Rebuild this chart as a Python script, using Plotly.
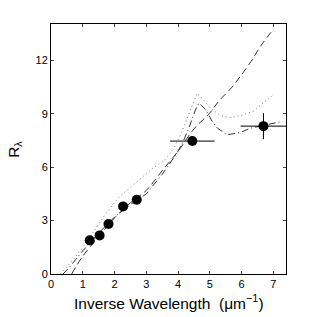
import plotly.graph_objects as go

# Observed points
obs_x = [1.22, 1.53, 1.81, 2.27, 2.70, 4.45, 6.69]
obs_y = [1.89, 2.17, 2.81, 3.80, 4.17, 7.47, 8.31]
obs_xerr = [0, 0, 0, 0, 0, 0.70, 0.72]
obs_yerr = [0, 0, 0, 0, 0, 0, 0.73]

# Model curves
dash_x = [0.65, 1.0, 1.5, 2.0, 2.5, 3.0, 3.5, 4.0, 4.5, 5.0, 5.3, 5.7, 6.0, 6.3, 6.6, 7.0]
dash_y = [0.0, 1.0, 2.1, 3.15, 4.0, 4.7, 5.8, 6.9, 8.15, 9.05, 9.75, 10.5, 11.2, 11.95, 12.8, 13.75]

dashdot_x = [0.38, 0.6, 1.0, 1.5, 2.0, 2.5, 3.0, 3.5, 3.95, 4.15, 4.34, 4.55, 4.66, 4.87, 5.08, 5.24, 5.55, 5.97, 6.29, 6.97, 7.2]
dashdot_y = [0.0, 0.42, 1.3, 2.3, 3.2, 3.9, 4.5, 5.6, 6.75, 7.4, 8.2, 9.23, 9.6, 9.23, 8.57, 8.2, 7.82, 7.96, 8.2, 8.43, 8.54]

dot_x = [0.3, 0.7, 1.0, 1.3, 1.77, 2.13, 2.6, 3.0, 3.24, 3.55, 3.85, 4.1, 4.35, 4.6, 4.8, 5.0, 5.3, 5.6, 6.0, 6.4, 6.7, 7.0]
dot_y = [0.0, 0.8, 1.5, 2.3, 3.5, 4.3, 5.0, 5.6, 6.0, 6.35, 7.0, 7.9, 9.0, 10.15, 9.8, 9.35, 8.95, 8.78, 8.92, 9.17, 9.65, 10.05]

x_ticks = [0, 1, 2, 3, 4, 5, 6, 7]
y_ticks = [0, 3, 6, 9, 12]

fig = go.Figure()
fig.add_trace(go.Scatter(x=dash_x, y=dash_y, mode="lines",
                         line=dict(color="#333333", width=1, dash="7px,4px"), line_shape="spline"))
fig.add_trace(go.Scatter(x=dashdot_x, y=dashdot_y, mode="lines",
                         line=dict(color="#333333", width=1, dash="7px,3px,1px,3px")))
fig.add_trace(go.Scatter(x=dot_x, y=dot_y, mode="lines",
                         line=dict(color="#777777", width=1, dash="1px,3px")))
fig.add_trace(go.Scatter(
    x=obs_x, y=obs_y, mode="markers",
    marker=dict(color="black", size=10),
    error_x=dict(type="data", array=obs_xerr, color="black", thickness=1, width=0),
    error_y=dict(type="data", array=obs_yerr, color="black", thickness=1, width=0),
))

fig.update_layout(
    width=316, height=317,
    margin=dict(l=51, r=30, t=24, b=43),
    paper_bgcolor="white", plot_bgcolor="white",
    showlegend=False,
    font=dict(family="Liberation Sans, Arial, sans-serif", color="black"),
    annotations=[
        dict(text="Inverse Wavelength  (μm<sup>−1</sup>)", xref="paper", yref="paper",
             x=0.5, y=-0.112, xanchor="center", yanchor="middle", showarrow=False,
             font=dict(size=15.5)),
        dict(text="R<sub>λ</sub>", xref="paper", yref="paper",
             x=-0.158, y=0.5, xanchor="center", yanchor="middle", showarrow=False,
             textangle=-90, font=dict(size=15.5)),
    ],
)
fig.update_xaxes(range=[0, 7.4], tickvals=x_ticks, ticks="inside", ticklen=3,
                 showgrid=False, zeroline=False, showline=True, linecolor="black",
                 linewidth=1, mirror="ticks", tickfont=dict(size=11), automargin=False)
fig.update_yaxes(range=[0, 14.05], tickvals=y_ticks, ticks="inside", ticklen=3,
                 showgrid=False, zeroline=False, showline=True, linecolor="black",
                 linewidth=1, mirror="ticks", tickfont=dict(size=11), automargin=False)

fig.write_html("out.html", config={"displayModeBar": False},
               post_script="document.body.style.margin='0';document.body.style.padding='0';")
